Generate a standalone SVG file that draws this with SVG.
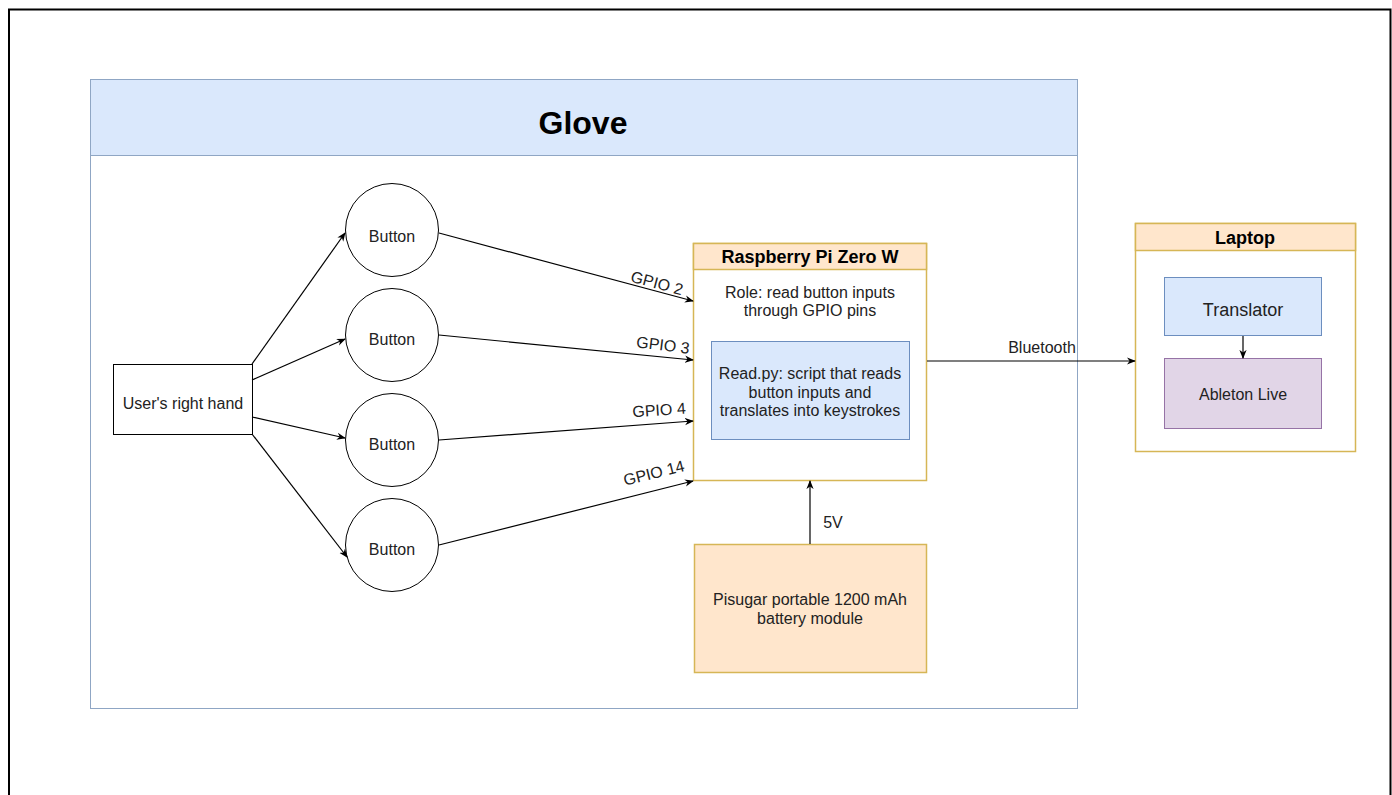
<svg xmlns="http://www.w3.org/2000/svg" width="1392" height="795" viewBox="0 0 1392 795">
<style>
text{font-family:"Liberation Sans",Arial,sans-serif;fill:#222;}
.t{font-size:16px;}
.h{font-size:18px;font-weight:bold;fill:#000;}
.edge{fill:none;stroke:#000;stroke-width:1.2;}
.yel{stroke:#d6b656;stroke-width:1.5;}
.blu{fill:#dae8fc;stroke:#6c8ebf;stroke-width:1;}
</style>
<defs>
<marker id="ah" viewBox="0 0 10 10" refX="9" refY="5" markerWidth="9" markerHeight="9" markerUnits="userSpaceOnUse" orient="auto">
<path d="M0,1 L10,5 L0,9 L3,5 z" fill="#000"/>
</marker>
</defs>
<rect width="1392" height="795" fill="#fff"/>
<path d="M9,795 V9.5 H1390.5 V795" fill="none" stroke="#000" stroke-width="2"/>

<g id="glove">
<rect x="90.5" y="79.5" width="987" height="629" fill="#fff" stroke="#8fa6c4" stroke-width="1"/>
<rect x="90.5" y="79.5" width="987" height="76" fill="#dae8fc" stroke="#8fa6c4" stroke-width="1"/>
<text x="583" y="134" text-anchor="middle" font-size="32" font-weight="bold" style="fill:#000">Glove</text>
</g>

<g id="hand">
<rect x="113.5" y="364.5" width="139" height="70" fill="#fff" stroke="#000"/>
<text x="183" y="409" text-anchor="middle" class="t">User's right hand</text>
</g>

<g id="button1"><circle cx="392" cy="230" r="46.5" fill="#fff" stroke="#000"/><text x="392" y="242" text-anchor="middle" class="t">Button</text></g>
<g id="button2"><circle cx="392" cy="335" r="46.5" fill="#fff" stroke="#000"/><text x="392" y="345" text-anchor="middle" class="t">Button</text></g>
<g id="button3"><circle cx="392" cy="440" r="46.5" fill="#fff" stroke="#000"/><text x="392" y="450" text-anchor="middle" class="t">Button</text></g>
<g id="button4"><circle cx="392" cy="545" r="46.5" fill="#fff" stroke="#000"/><text x="392" y="555" text-anchor="middle" class="t">Button</text></g>

<g id="rpi">
<rect x="693.5" y="243.5" width="233" height="237" fill="#fff" class="yel"/>
<rect x="693.5" y="243.5" width="233" height="26" fill="#ffe6cc" class="yel"/>
<text x="810" y="263" text-anchor="middle" class="h">Raspberry Pi Zero W</text>
<text x="810" y="298" text-anchor="middle" class="t">Role: read button inputs</text>
<text x="810" y="316" text-anchor="middle" class="t">through GPIO pins</text>
</g>

<g id="readpy">
<rect x="711.5" y="341.5" width="198" height="98" class="blu"/>
<text x="810" y="379" text-anchor="middle" class="t">Read.py: script that reads</text>
<text x="810" y="397.5" text-anchor="middle" class="t">button inputs and</text>
<text x="810" y="416" text-anchor="middle" class="t">translates into keystrokes</text>
</g>

<g id="battery">
<rect x="694.5" y="544.5" width="232" height="128" fill="#ffe6cc" class="yel"/>
<text x="810" y="605" text-anchor="middle" class="t">Pisugar portable 1200 mAh</text>
<text x="810" y="624" text-anchor="middle" class="t">battery module</text>
</g>

<g id="laptop">
<rect x="1135.5" y="223.5" width="220" height="228" fill="#fff" class="yel"/>
<rect x="1135.5" y="223.5" width="220" height="27" fill="#ffe6cc" class="yel"/>
<text x="1245" y="244" text-anchor="middle" class="h">Laptop</text>
</g>

<g id="translator">
<rect x="1164.5" y="277.5" width="157" height="58" class="blu"/>
<text x="1243" y="316" text-anchor="middle" font-size="18">Translator</text>
</g>

<g id="ableton">
<rect x="1164.5" y="358.5" width="157" height="70" fill="#e1d5e7" stroke="#9673a6"/>
<text x="1243" y="400" text-anchor="middle" class="t">Ableton Live</text>
</g>

<g id="connectors">
<line class="edge" x1="252" y1="364" x2="345" y2="233" marker-end="url(#ah)"/>
<line class="edge" x1="252" y1="380" x2="345" y2="339" marker-end="url(#ah)"/>
<line class="edge" x1="252" y1="417" x2="345" y2="438" marker-end="url(#ah)"/>
<line class="edge" x1="252" y1="434" x2="347" y2="557" marker-end="url(#ah)"/>

<line class="edge" x1="439" y1="233" x2="693" y2="301" marker-end="url(#ah)"/>
<line class="edge" x1="439" y1="335" x2="693" y2="360" marker-end="url(#ah)"/>
<line class="edge" x1="439" y1="440" x2="693" y2="421" marker-end="url(#ah)"/>
<line class="edge" x1="439" y1="545" x2="693" y2="481" marker-end="url(#ah)"/>

<line class="edge" x1="810" y1="544" x2="810" y2="481" marker-end="url(#ah)"/>
<line class="edge" x1="927" y1="361" x2="1135" y2="361" marker-end="url(#ah)"/>
<line class="edge" x1="1243" y1="336" x2="1243" y2="358" marker-end="url(#ah)"/>

<text class="t" text-anchor="middle" transform="translate(655.6,288.3) rotate(15)">GPIO 2</text>
<text class="t" text-anchor="middle" transform="translate(662.3,350.5) rotate(7)">GPIO 3</text>
<text class="t" text-anchor="middle" transform="translate(659.4,415.5) rotate(-4)">GPIO 4</text>
<text class="t" text-anchor="middle" transform="translate(655.3,478.3) rotate(-14)">GPIO 14</text>
<text class="t" x="833" y="528" text-anchor="middle">5V</text>
<text class="t" x="1042" y="353" text-anchor="middle">Bluetooth</text>
</g>
</svg>
